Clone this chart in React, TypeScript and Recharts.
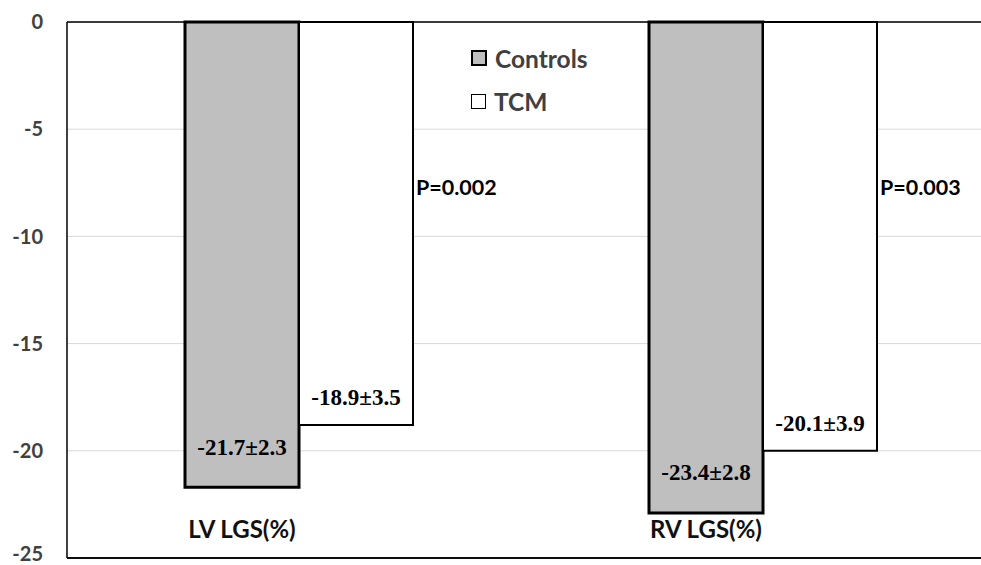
import React from 'react';
import {
  BarChart, Bar, XAxis, YAxis, CartesianGrid, ReferenceLine, Legend, LabelList,
} from 'recharts';

const categories = ['LV LGS(%)', 'RV LGS(%)'];
const controls = [-21.7, -22.9];
const tcm = [-18.8, -20.0];
const controlsText = ['-21.7±2.3', '-23.4±2.8'];
const tcmText = ['-18.9±3.5', '-20.1±3.9'];
const pValues = ['P=0.002', 'P=0.003'];
const yTicks = [0, -5, -10, -15, -20, -25];

const sans = 'Lato, "Open Sans", sans-serif';
const serif = '"Liberation Serif", "Times New Roman", serif';

const data = categories.map((name, i) => ({
  name,
  controls: controls[i],
  tcm: tcm[i],
}));

const bottomOf = (y: number, h: number) => Math.max(y, y + h);
const topOf = (y: number, h: number) => Math.min(y, y + h);

const ControlsLabel = (props: any) => {
  const { x, y, width, height, index } = props;
  return (
    <text x={x + width / 2} y={bottomOf(y, height) - 38} textAnchor="middle" dominantBaseline="middle"
      fontFamily={serif} fontWeight="bold" fontSize={23} fill="#000">
      {controlsText[index]}
    </text>
  );
};

const TcmLabel = (props: any) => {
  const { x, y, width, height, index } = props;
  return (
    <g>
      <text x={x + width / 2} y={bottomOf(y, height) - 25} textAnchor="middle" dominantBaseline="middle"
        fontFamily={serif} fontWeight="bold" fontSize={23} fill="#000">
        {tcmText[index]}
      </text>
      <text x={x + width + 3} y={topOf(y, height) + 167} textAnchor="start" dominantBaseline="middle"
        fontFamily={sans} fontWeight="bold" fontSize={21.5} fill="#000">
        {pValues[index]}
      </text>
    </g>
  );
};

const CategoryTick = (props: any) => {
  const { x, y, payload } = props;
  return (
    <text x={x - 57} y={y - 26} textAnchor="middle" dominantBaseline="middle"
      fontFamily={sans} fontWeight="bold" fontSize={24} fill="#111">
      {payload.value}
    </text>
  );
};

const LegendBox = () => (
  <div style={{ fontFamily: sans, fontWeight: 'bold', fontSize: 24.5, color: '#404040' }}>
    <div style={{ display: 'flex', alignItems: 'center', height: 30 }}>
      <span style={{ width: 12, height: 12, background: '#bfbfbf', border: '2.5px solid #000', marginRight: 8 }} />
      Controls
    </div>
    <div style={{ display: 'flex', alignItems: 'center', height: 30, marginTop: 13 }}>
      <span style={{ width: 13, height: 13, background: '#fff', border: '1.5px solid #000', marginRight: 8 }} />
      TCM
    </div>
  </div>
);

export default function App() {
  return (
    <div style={{ position: 'absolute', left: 0, top: 0, width: 981, height: 565, overflow: 'hidden', background: '#fff' }}>
      <BarChart width={1000} height={565} data={data} barGap={0}
        margin={{ top: 22, right: 5, left: 0, bottom: 6 }}>
        <CartesianGrid vertical={false} stroke="#d9d9d9" />
        <XAxis dataKey="name" height={1} tickLine={false} tickSize={0} tickMargin={0}
          axisLine={{ stroke: '#000', strokeWidth: 1.5 }} tick={<CategoryTick />} interval={0} />
        <YAxis domain={[-25, 0]} ticks={yTicks} width={67} tickLine={false} tickSize={6} tickMargin={18}
          axisLine={{ stroke: '#000', strokeWidth: 1.5 }}
          tick={{ fontFamily: sans, fontWeight: 'bold', fontSize: 20, fill: '#404040' }} />
        <ReferenceLine y={0} stroke="#000" strokeWidth={1.5} />
        <ReferenceLine y={-25} stroke="#000" strokeWidth={1.5} />
        <Legend layout="horizontal" verticalAlign="middle" align="center" content={<LegendBox />}
          wrapperStyle={{ left: 471, top: 43, width: 200 }} />
        <Bar dataKey="controls" name="Controls" fill="#bfbfbf" stroke="#000" strokeWidth={3}
          barSize={114} isAnimationActive={false}>
          <LabelList dataKey="controls" content={<ControlsLabel />} />
        </Bar>
        <Bar dataKey="tcm" name="TCM" fill="#fff" stroke="#000" strokeWidth={2}
          barSize={114} isAnimationActive={false}>
          <LabelList dataKey="tcm" content={<TcmLabel />} />
        </Bar>
      </BarChart>
    </div>
  );
}
